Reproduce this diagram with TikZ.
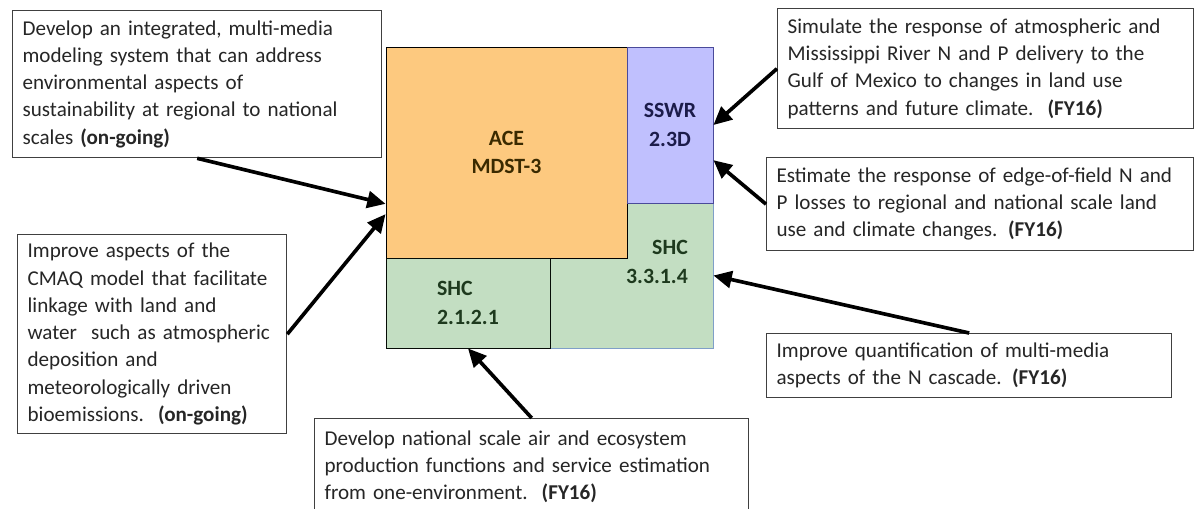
\documentclass[tikz,border=0pt]{standalone}
\usepackage{fontspec}
\setmainfont{Carlito}
\usetikzlibrary{arrows.meta}

\definecolor{aceorange}{HTML}{FDC97F}
\definecolor{acetext}{HTML}{3A2A00}
\definecolor{sswrblue}{HTML}{C0C0FE}
\definecolor{sswrtext}{HTML}{1C1C4A}
\definecolor{sswrline}{HTML}{4A4A9A}
\definecolor{shcgreen}{HTML}{C3DEC2}
\definecolor{shctext}{HTML}{1E3A1E}
\definecolor{shcline}{HTML}{7F9FC8}

\newcommand{\boxfont}{\fontsize{15}{19.4}\selectfont}
\newcommand{\blockfont}{\fontsize{15.5}{20.5}\selectfont\bfseries}

\tikzset{
goal/.style={shape=rectangle,draw=black!75,line width=0.9pt,fill=white,align=left,anchor=north west,inner xsep=0.25cm,inner ysep=0pt,font=\boxfont,text=black!85},
block/.style={shape=rectangle,line width=0.6pt,inner sep=0pt,font=\blockfont},
arr/.style={-{Triangle[length=13pt,width=12pt]},draw=black,line width=2.6pt}
}

\begin{document}
\begin{tikzpicture}[x=0.025cm,y=-0.025cm]
\useasboundingbox (0,0) rectangle (1198,508);
% project blocks
\node[block,draw=shcline,fill=shcgreen,minimum width=4.075cm,minimum height=3.625cm] (shcb) at (631.5,275.5) {};
\node[block,draw=black,fill=aceorange,text=acetext,align=center,minimum width=6.025cm,minimum height=5.275cm] (ace) at (506.5,152.5) {ACE\\MDST-3};
\node[block,draw=sswrline,fill=sswrblue,text=sswrtext,align=center,minimum width=2.15cm,minimum height=3.9cm] (sswr) at (670,125) {SSWR\\2.3D};
\node[block,draw=black!80!shctext,fill=shcgreen,text=shctext,align=left,minimum width=4.1cm,minimum height=2.25cm] (shca) at (468,303) {SHC\\2.1.2.1};
\node[block,text=shctext,align=right] (shcbtext) at (657,262) {SHC\\3.3.1.4};

% goals
\node[goal,text width=8.725cm,minimum height=3.675cm] (goal1) at (12,10) {Develop an integrated, multi-media\\modeling system that can address\\environmental aspects of\\sustainability at regional to national\\scales \textbf{(on-going)}};
\node[goal,text width=6.225cm,minimum height=4.975cm] (cmaq) at (17,234) {Improve aspects of the\\CMAQ model that facilitate\\linkage with land and\\water\ \ such as atmospheric\\deposition and\\meteorologically driven\\bioemissions.\ \ \textbf{(on-going)}};
\node[goal,text width=10.35cm,minimum height=2.4cm] (natl) at (314,418) {Develop national scale air and ecosystem\\production functions and service estimation\\from one-environment.\ \ \textbf{(FY16)}};
\node[goal,text width=9.9cm,minimum height=3.0cm] (gulf) at (777,8) {Simulate the response of atmospheric and\\Mississippi River N and P delivery to the\\Gulf of Mexico to changes in land use\\patterns and future climate.\ \ \textbf{(FY16)}};
\node[goal,text width=10.175cm,minimum height=2.325cm] (field) at (766,157) {Estimate the response of edge-of-field N and\\P losses to regional and national scale land\\use and climate changes. \textbf{(FY16)}};
\node[goal,text width=9.625cm,minimum height=1.6cm] (ncascade) at (766,333) {Improve quantification of multi-media\\aspects of the N cascade. \textbf{(FY16)}};

\path (goal1.south) edge [arr] (ace.203);
\path (cmaq.east) edge [arr] (ace.207);
\path (natl.north) edge [arr] (shca.south);
\path (ncascade.north) edge [arr] (shcb.east);
\path (gulf.west) edge [arr] (sswr.east);
\path (field.west) edge [arr] (sswr.321);
\end{tikzpicture}
\end{document}
